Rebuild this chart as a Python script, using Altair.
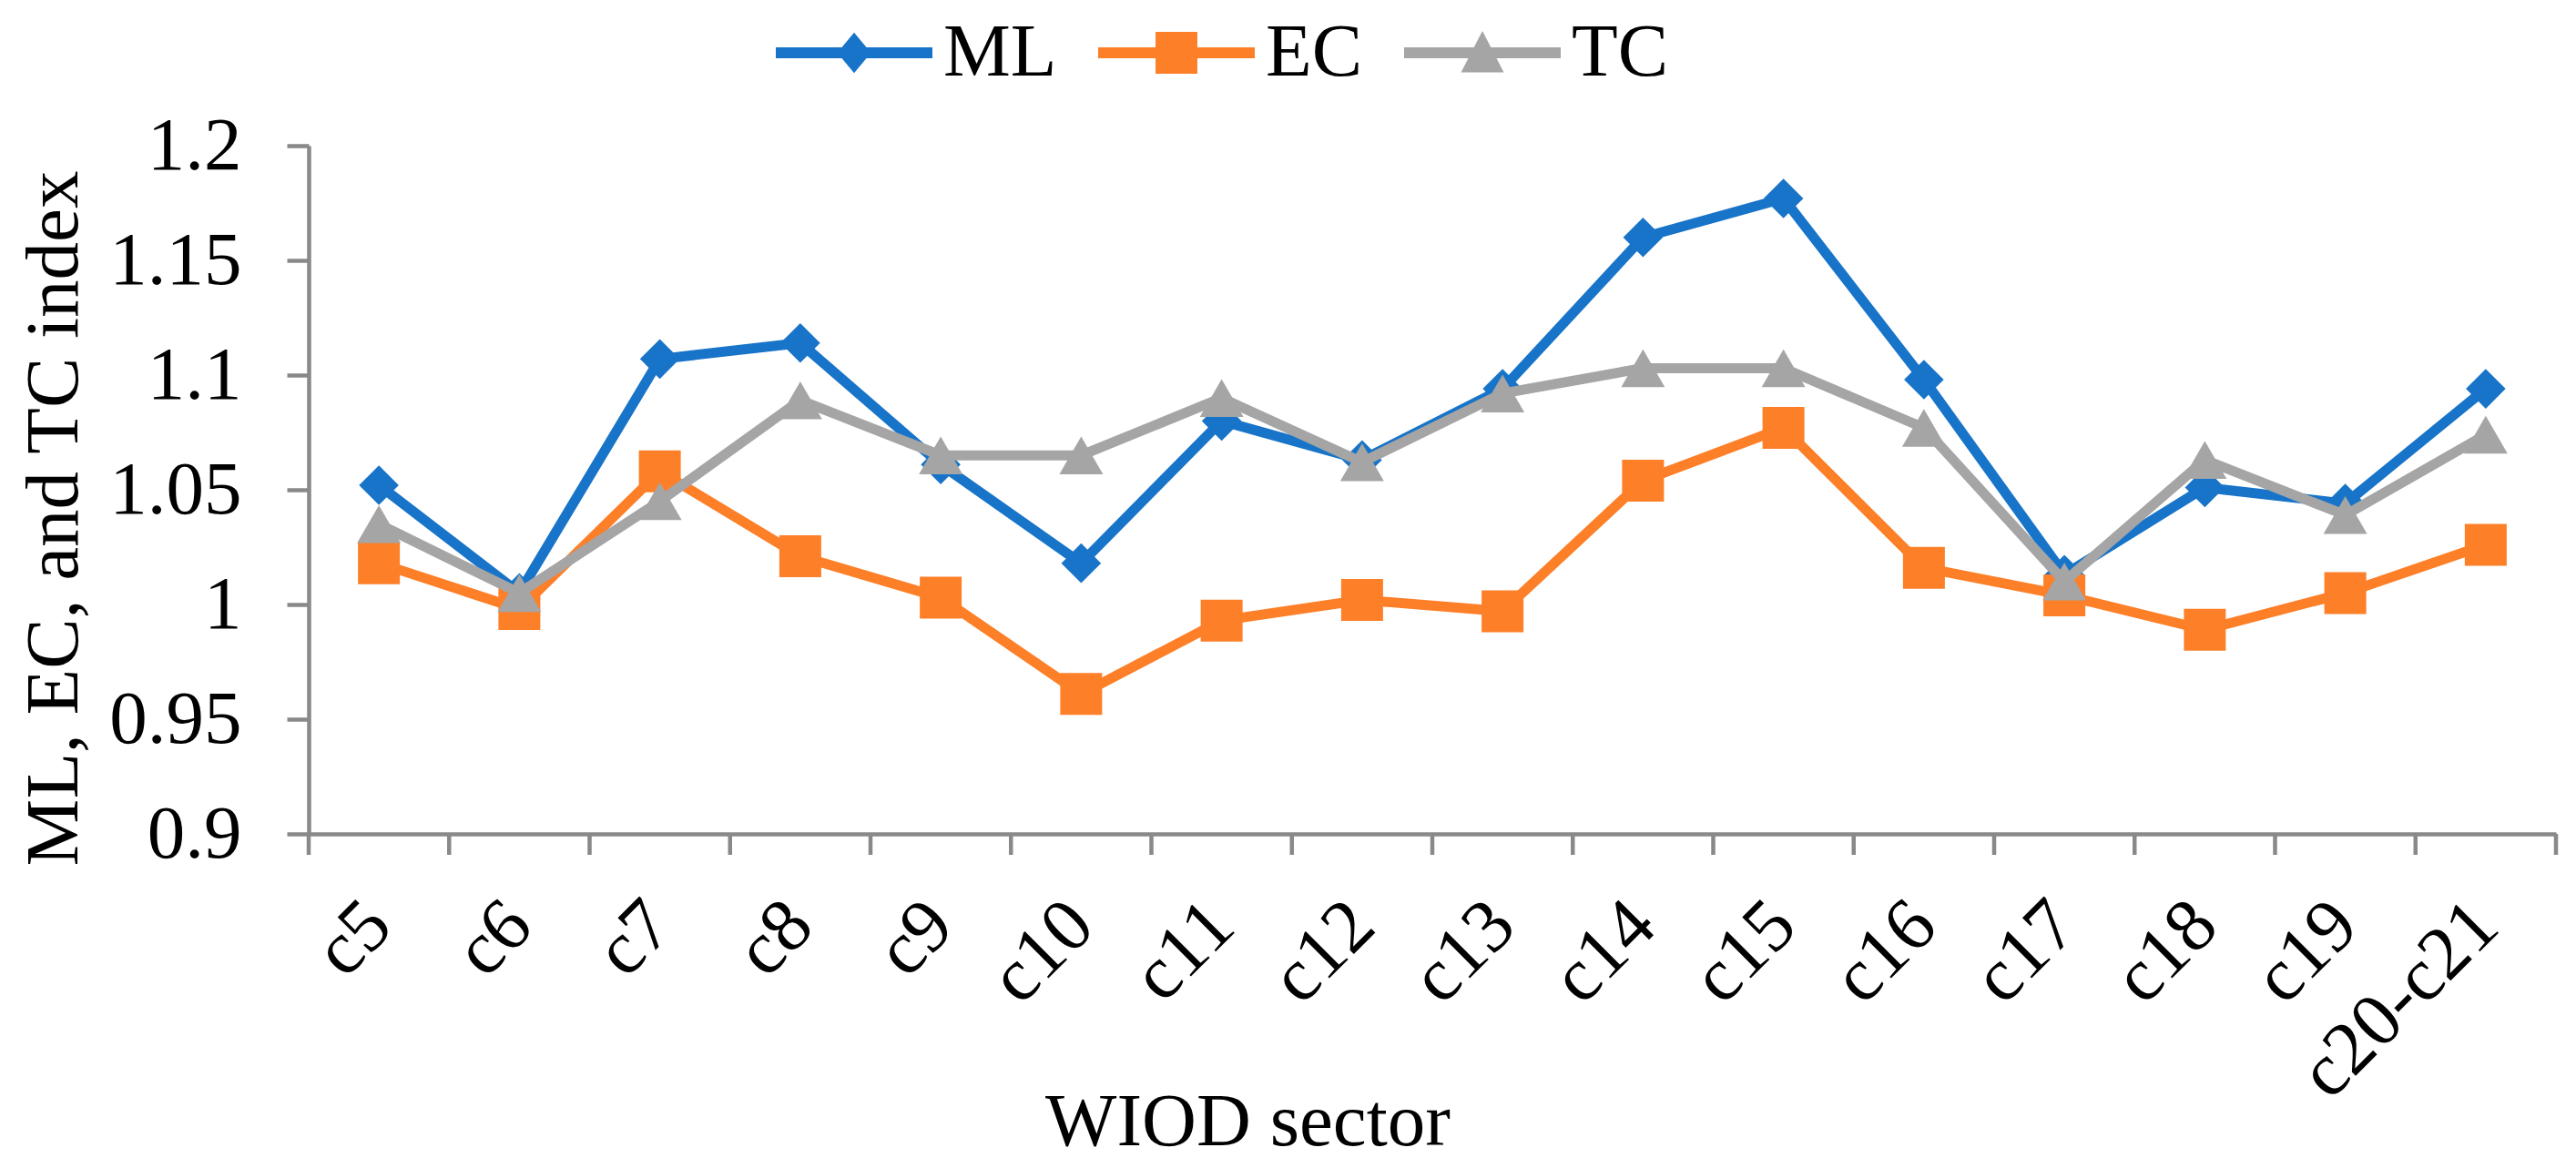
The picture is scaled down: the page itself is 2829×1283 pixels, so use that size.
import altair as alt
import pandas as pd

# ---- data ----
sectors = ["c5", "c6", "c7", "c8", "c9", "c10", "c11", "c12", "c13", "c14",
           "c15", "c16", "c17", "c18", "c19", "c20-c21"]
ml = [1.052, 1.005, 1.107, 1.114, 1.061, 1.018, 1.080, 1.063, 1.094, 1.160,
      1.177, 1.098, 1.013, 1.051, 1.044, 1.094]
ec = [1.018, 0.998, 1.058, 1.021, 1.003, 0.961, 0.993, 1.002, 0.997, 1.054,
      1.077, 1.016, 1.004, 0.989, 1.005, 1.026]
tc = [1.035, 1.005, 1.045, 1.089, 1.065, 1.065, 1.090, 1.062, 1.092, 1.103,
      1.103, 1.077, 1.010, 1.063, 1.039, 1.074]
series_names = ["ML", "EC", "TC"]
series_values = [ml, ec, tc]
y_ticks = [0.9, 0.95, 1.0, 1.05, 1.1, 1.15, 1.2]

# ---- styles ----
series_colors = ["#1874C8", "#FD7F28", "#A5A5A5"]
series_shapes = ["diamond", "square", "triangle-up"]
series_sizes = [1900, 2116, 2300]
legend_paths = [
    "M-1,-0.07L1,-0.07L1,0.07L-1,0.07Z M-0.215,0L0,-0.26L0.215,0L0,0.26Z",
    "M-1,-0.07L1,-0.07L1,0.07L-1,0.07Z M-0.267,-0.267L0.267,-0.267L0.267,0.267L-0.267,0.267Z",
    "M-1,-0.07L1,-0.07L1,0.07L-1,0.07Z M0,-0.28L0.273,0.25L-0.273,0.25Z",
]
AXIS_GRAY = "#898989"
FONT = "'Liberation Serif', 'Times New Roman', Tinos, 'DejaVu Serif', serif"
FS = 83
W, H = 2468, 756

rows = []
for name, vals in zip(series_names, series_values):
    for s, v in zip(sectors, vals):
        rows.append({"sector": s, "series": name, "value": v})
df = pd.DataFrame(rows)

xscale = alt.Scale(type="band", domain=sectors, paddingInner=0, paddingOuter=0)
yscale = alt.Scale(domain=[0.9, 1.2], nice=False, zero=False)

xaxis = alt.Axis(
    title="WIOD sector", labelAngle=-45, labelAlign="right", labelBaseline="middle",
    labelPadding=87, ticks=False, tickSize=0, domainColor=AXIS_GRAY, domainWidth=4.5,
    labelFont=FONT, labelFontSize=FS, labelColor="black", labelOverlap=False,
    labelBound=False, labelFlush=False, labelLimit=0,
    titleFont=FONT, titleFontSize=FS, titleFontWeight="normal", titleColor="black",
    titleX=1031, titleY=341, titleAlign="center", titleBaseline="alphabetic",
    grid=False,
)
yaxis = alt.Axis(
    title="ML, EC, and TC index", values=y_ticks, format="~g",
    tickSize=24, tickWidth=4.5, tickColor=AXIS_GRAY,
    domainColor=AXIS_GRAY, domainWidth=4.5, labelPadding=50,
    labelFont=FONT, labelFontSize=FS, labelColor="black", labelOverlap=False,
    labelFlush=False, labelBaseline="middle",
    titleFont=FONT, titleFontSize=FS, titleFontWeight="normal", titleColor="black",
    titleX=-255, titleY=409, titleAngle=270, titleAlign="center",
    titleBaseline="alphabetic", grid=False,
)

X = alt.X("sector:N", scale=xscale, axis=xaxis, sort=sectors)
Y = alt.Y("value:Q", scale=yscale, axis=yaxis)

layers = []

# category-boundary ticks on the x axis (Excel style)
tick_df = pd.DataFrame({"sector": sectors})
layers.append(
    alt.Chart(tick_df).mark_rule(color=AXIS_GRAY, strokeWidth=4.5).encode(
        x=alt.X("sector:N", scale=xscale, axis=xaxis, sort=sectors, bandPosition=0),
        y=alt.value(H), y2=alt.value(H + 23),
    )
)
layers.append(
    alt.Chart(tick_df.tail(1)).mark_rule(color=AXIS_GRAY, strokeWidth=4.5).encode(
        x=alt.X("sector:N", scale=xscale, axis=xaxis, sort=sectors, bandPosition=1),
        y=alt.value(H), y2=alt.value(H + 23),
    )
)

for name, col, shp, sz in zip(series_names, series_colors, series_shapes, series_sizes):
    base = alt.Chart(df).transform_filter(alt.datum.series == name)
    layers.append(
        base.mark_line(color=col, strokeWidth=11, strokeCap="round", strokeJoin="round")
        .encode(x=X, y=Y)
    )
    layers.append(
        base.mark_point(shape=shp, filled=True, size=sz, color=col, opacity=1, strokeWidth=0)
        .encode(x=X, y=Y)
    )

legend = alt.Legend(
    title=None, orient="none", legendX=513, legendY=-188, direction="horizontal",
    columns=3, symbolSize=29584, symbolStrokeWidth=0, symbolOpacity=1,
    labelFont=FONT, labelFontSize=FS, labelColor="black", labelOffset=12,
    columnPadding=45, padding=0, labelLimit=0,
)
leg_df = pd.DataFrame({"series": series_names})
layers.append(
    alt.Chart(leg_df).transform_filter("false").mark_point(filled=True, opacity=1).encode(
        color=alt.Color("series:N", scale=alt.Scale(domain=series_names, range=series_colors),
                        legend=legend),
        shape=alt.Shape("series:N", scale=alt.Scale(domain=series_names, range=legend_paths),
                        legend=legend),
    )
)

chart = (
    alt.layer(*layers)
    .properties(
        width=W, height=H,
        autosize=alt.AutoSizeParams(type="none"),
        padding={"left": 331, "top": 152, "right": 14, "bottom": 359},
        background="white",
    )
    .configure(font=FONT)
    .configure_view(stroke=None)
)

chart.save("out.html", embed_options={"renderer": "svg", "actions": False})
